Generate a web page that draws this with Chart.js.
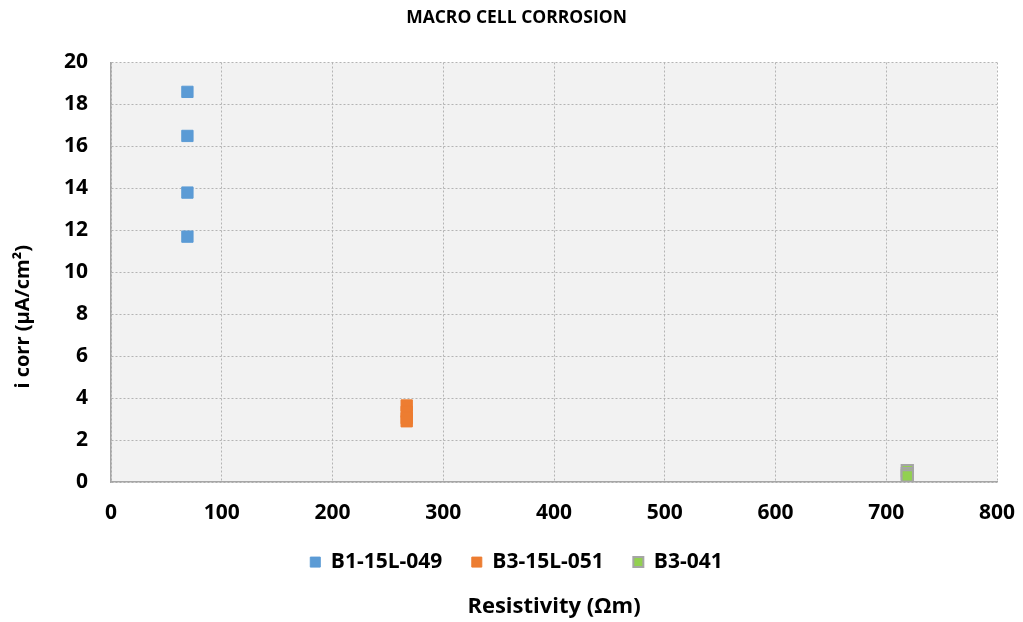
<!DOCTYPE html>
<html>
<head>
<meta charset="utf-8">
<script src="https://cdn.jsdelivr.net/npm/chart.js@4.4.1/dist/chart.umd.min.js"></script>
<style>
  html, body { margin: 0; padding: 0; background: #ffffff; }
  #wrap { width: 1023px; height: 622px; position: relative; }
</style>
</head>
<body>
<div id="wrap"><canvas id="chart" width="1023" height="622"></canvas></div>
<script>
// Resistivity (Ωm) and corrosion current density (µA/cm²) per beam
const seriesNames = ['B1-15L-049', 'B3-15L-051', 'B3-041'];
const b1Resistivity = [69, 69, 69, 69];
const b1Icorr = [18.6, 16.5, 13.8, 11.7];
const b3Resistivity = [267, 267, 267, 267];
const b3Icorr = [3.65, 3.35, 3.05, 2.9];
const b3041Resistivity = [719, 719, 719];
const b3041Icorr = [0.55, 0.4, 0.3];
const xTicks = [0, 100, 200, 300, 400, 500, 600, 700, 800];
const yTicks = [0, 2, 4, 6, 8, 10, 12, 14, 16, 18, 20];
const yAxisTitle = 'i corr (µA/cm²)';
const xAxisTitle = 'Resistivity (Ωm)';

const toPoints = (xs, ys) => xs.map((x, i) => ({ x: x, y: ys[i] }));

const FONT = '"Open Sans", "Liberation Sans", sans-serif';

// Light grey plot area behind the grid
const plotBackground = {
  id: 'plotBackground',
  beforeDraw(chart) {
    const { ctx, chartArea: a } = chart;
    ctx.save();
    ctx.fillStyle = '#f2f2f2';
    ctx.fillRect(a.left, a.top, a.right - a.left, a.bottom - a.top);
    ctx.restore();
  }
};

// Rotated y-axis title, set a little below the middle of the plot height
const yTitle = {
  id: 'yTitle',
  afterDraw(chart) {
    const { ctx, chartArea: a } = chart;
    ctx.save();
    ctx.translate(23, a.bottom - 0.394 * (a.bottom - a.top));
    ctx.rotate(-Math.PI / 2);
    ctx.fillStyle = '#000';
    ctx.font = '700 20px ' + FONT;
    ctx.textAlign = 'center';
    ctx.textBaseline = 'middle';
    ctx.fillText(yAxisTitle, 0, 0);
    ctx.restore();
  }
};

new Chart(document.getElementById('chart'), {
  type: 'scatter',
  data: {
    datasets: [
      {
        label: seriesNames[0],
        data: toPoints(b1Resistivity, b1Icorr),
        backgroundColor: '#5b9bd5',
        borderColor: '#5b9bd5',
        borderWidth: 1,
        pointStyle: 'rect',
        pointRadius: 8,
        pointHoverRadius: 8
      },
      {
        label: seriesNames[1],
        data: toPoints(b3Resistivity, b3Icorr),
        backgroundColor: '#ed7d31',
        borderColor: '#ed7d31',
        borderWidth: 1,
        pointStyle: 'rect',
        pointRadius: 8,
        pointHoverRadius: 8
      },
      {
        label: seriesNames[2],
        data: toPoints(b3041Resistivity, b3041Icorr),
        backgroundColor: '#92d050',
        borderColor: '#a5a5a5',
        borderWidth: 2,
        pointStyle: 'rect',
        pointRadius: 8,
        pointHoverRadius: 8
      }
    ]
  },
  options: {
    responsive: false,
    animation: false,
    layout: { padding: { left: 14, right: 4, top: 4, bottom: 0 } },
    plugins: {
      title: {
        display: true,
        text: 'MACRO CELL CORROSION',
        color: '#000',
        font: { family: FONT, size: 17.5, weight: '700' },
        padding: { top: 4, bottom: 33.5 }
      },
      subtitle: {
        display: true,
        position: 'bottom',
        fullSize: false,
        text: xAxisTitle,
        color: '#000',
        font: { family: FONT, size: 22, weight: '700' },
        padding: { top: 11, bottom: 2 }
      },
      legend: {
        position: 'bottom',
        labels: {
          color: '#000',
          font: { family: FONT, size: 21, weight: '700' },
          boxWidth: 10,
          boxHeight: 10,
          padding: 29.5
        }
      },
      tooltip: { enabled: false }
    },
    scales: {
      x: {
        type: 'linear',
        min: 0,
        max: 800,
        afterBuildTicks(scale) { scale.ticks = xTicks.map(v => ({ value: v })); },
        afterFit(scale) {
          scale.height = 40;
          scale.paddingRight = 26;
        },
        grid: { color: '#b4b4b4', drawTicks: false },
        border: { display: true, color: '#a6a6a6', width: 1.5, dash: [2, 2] },
        ticks: {
          color: '#000',
          padding: 26,
          font: { family: FONT, size: 21, weight: '700', lineHeight: 0.5 }
        }
      },
      y: {
        type: 'linear',
        min: 0,
        max: 20,
        afterBuildTicks(scale) { scale.ticks = yTicks.map(v => ({ value: v })); },
        afterFit(scale) { scale.width = 97; },
        grid: { color: '#b4b4b4', drawTicks: false },
        border: { display: true, color: '#a6a6a6', width: 1.5, dash: [2, 2] },
        ticks: {
          color: '#000',
          padding: 23,
          font: { family: FONT, size: 21, weight: '700' }
        }
      }
    }
  },
  plugins: [plotBackground, yTitle]
});
</script>
</body>
</html>
